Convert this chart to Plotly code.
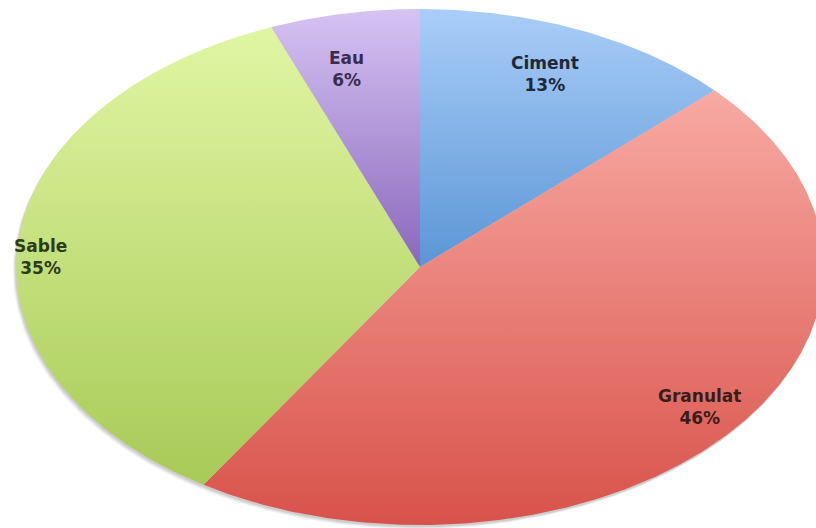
import numpy as np
import plotly.graph_objects as go

# Composition du béton (en % de la masse)
categories = ["Ciment", "Granulat", "Sable", "Eau"]
values = [13, 46, 35, 6]

# Dégradés verticaux (bas -> haut) de chaque part
slice_colors = {
    "Ciment": ("#5a96d5", "#aacdf8"),
    "Granulat": ("#d8524a", "#f8aaa3"),
    "Sable": ("#a8ca57", "#e1f6a4"),
    "Eau": ("#8a67bc", "#d6c3f3"),
}
text_colors = {
    "Ciment": "#1e2838",
    "Granulat": "#3a1c1a",
    "Sable": "#2e3b1a",
    "Eau": "#3a2c4c",
}
# label placement: (radius, angular nudge in degrees, counter-clockwise)
label_place = {
    "Ciment": (0.81, 1.0),
    "Granulat": (0.88, 1.5),
    "Sable": (0.94, 3.0),
    "Eau": (0.79, 2.5),
}

W, H = 816, 528
CX, CY = 420, 267      # centre of the ellipse in pixels
RX, RY = 404, 258      # semi-axes in pixels

fig = go.Figure()

# soft drop shadow under the disc
for dx, dy, op in [(-3, 4, 0.10), (-2, 3, 0.14), (-1, 2, 0.18)]:
    t = np.linspace(0, 2 * np.pi, 361)
    fig.add_trace(go.Scatter(
        x=np.cos(t) + dx / RX, y=np.sin(t) - dy / RY,
        mode="lines", fill="toself", line=dict(width=0),
        fillcolor=f"rgba(120,120,120,{op})", hoverinfo="skip", showlegend=False,
    ))

total = sum(values)
start = 90.0  # degrees, 12 o'clock, going clockwise
for name, v in zip(categories, values):
    sweep = 360.0 * v / total
    n = max(int(sweep * 2), 8)
    ang = np.radians(np.linspace(start, start - sweep, n))
    xs = np.concatenate([[0], np.cos(ang), [0]])
    ys = np.concatenate([[0], np.sin(ang), [0]])
    bottom, top = slice_colors[name]
    fig.add_trace(go.Scatter(
        x=xs, y=ys, mode="lines", fill="toself", line=dict(width=0),
        fillgradient=dict(type="vertical", colorscale=[[0, bottom], [1, top]]),
        hoverinfo="skip", showlegend=False,
    ))
    r, nudge = label_place[name]
    mid = np.radians(start - sweep / 2 + nudge)
    fig.add_annotation(
        x=r * np.cos(mid), y=r * np.sin(mid),
        text=f"{name}<br>{v}%", showarrow=False,
        font=dict(family="DejaVu Sans", size=17, color=text_colors[name], weight="bold"),
        align="center",
    )
    start -= sweep

fig.update_layout(
    width=W, height=H,
    margin=dict(l=0, r=0, t=0, b=0),
    paper_bgcolor="white", plot_bgcolor="white",
    xaxis=dict(range=[-CX / RX, (W - CX) / RX], visible=False, fixedrange=True),
    yaxis=dict(range=[-(H - CY) / RY, CY / RY], visible=False, fixedrange=True),
    showlegend=False,
)

fig.write_html("out.html")
